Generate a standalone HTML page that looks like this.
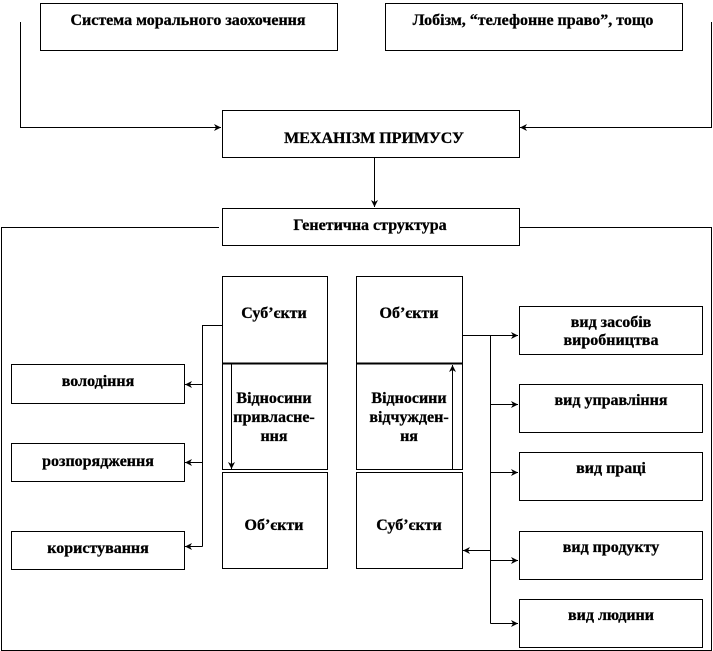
<!DOCTYPE html>
<html><head><meta charset="utf-8"><style>
html,body{margin:0;padding:0;background:#fff;}
svg{display:block;}
text{font-family:"Liberation Serif",serif;font-weight:bold;font-size:16px;fill:#000;text-anchor:middle;stroke:#000;stroke-width:0.3;}
</style></head><body>
<svg width="713" height="651" viewBox="0 0 713 651" xmlns="http://www.w3.org/2000/svg">
<defs><marker id="a" markerWidth="8" markerHeight="8" refX="7" refY="4" orient="auto" markerUnits="userSpaceOnUse"><path d="M0,0.5 L7,4 L0,7.5 L2,4 Z" fill="#000"/></marker></defs>
<g fill="none" stroke="#000" stroke-width="1">
<rect x="40.5" y="3.5" width="297" height="47"/>
<rect x="385.5" y="3.5" width="297" height="47"/>
<rect x="222.5" y="110.5" width="297" height="47"/>
<polyline points="20.5,22 20.5,127.5 221,127.5" marker-end="url(#a)"/>
<polyline points="711.5,22 711.5,127.5 520,127.5" marker-end="url(#a)"/>
<line x1="374.5" y1="158" x2="374.5" y2="207" marker-end="url(#a)"/>
<rect x="222.5" y="208.5" width="297" height="37"/>
<polyline points="219,227.5 1.5,227.5 1.5,650.5 711.5,650.5 711.5,227.5 520,227.5"/>
<rect x="222.5" y="276.5" width="105" height="193"/>
<line x1="222" y1="363.5" x2="328" y2="363.5" stroke-width="2"/>
<rect x="222.5" y="472.5" width="105" height="96"/>
<rect x="356.5" y="276.5" width="106" height="193"/>
<line x1="356" y1="363.5" x2="463" y2="363.5" stroke-width="2"/>
<rect x="356.5" y="472.5" width="106" height="96"/>
<line x1="231.5" y1="364" x2="231.5" y2="469" marker-end="url(#a)"/>
<line x1="452.5" y1="470" x2="452.5" y2="365" marker-end="url(#a)"/>
<rect x="11.5" y="364.5" width="173" height="39"/>
<rect x="11.5" y="443.5" width="173" height="38"/>
<rect x="11.5" y="531.5" width="173" height="38"/>
<polyline points="222,325.5 202.5,325.5 202.5,546.5"/>
<line x1="202.5" y1="384.5" x2="185" y2="384.5" marker-end="url(#a)"/>
<line x1="202.5" y1="462.5" x2="185" y2="462.5" marker-end="url(#a)"/>
<line x1="202.5" y1="546.5" x2="185" y2="546.5" marker-end="url(#a)"/>
<rect x="519.5" y="306.5" width="183" height="48"/>
<rect x="519.5" y="384.5" width="183" height="48"/>
<rect x="519.5" y="452.5" width="183" height="48"/>
<rect x="519.5" y="531.5" width="183" height="48"/>
<rect x="519.5" y="599.5" width="183" height="48"/>
<polyline points="463,335.5 490.5,335.5 490.5,623.5"/>
<line x1="490.5" y1="335.5" x2="518" y2="335.5" marker-end="url(#a)"/>
<line x1="490.5" y1="404.5" x2="518" y2="404.5" marker-end="url(#a)"/>
<line x1="490.5" y1="472.5" x2="518" y2="472.5" marker-end="url(#a)"/>
<line x1="490.5" y1="560.5" x2="518" y2="560.5" marker-end="url(#a)"/>
<line x1="490.5" y1="623.5" x2="518" y2="623.5" marker-end="url(#a)"/>
<line x1="490.5" y1="550.5" x2="463" y2="550.5" marker-end="url(#a)"/>
</g>
<text x="188" y="25">Система морального заохочення</text>
<text x="533" y="25">Лобізм, “телефонне право”, тощо</text>
<text x="374" y="143">МЕХАНІЗМ ПРИМУСУ</text>
<text x="370" y="230">Генетична структура</text>
<text x="274" y="318">Суб’єкти</text>
<text x="274" y="403">Відносини</text>
<text x="274" y="422">привласне-</text>
<text x="274" y="441">ння</text>
<text x="274" y="530">Об’єкти</text>
<text x="409" y="318">Об’єкти</text>
<text x="409" y="403">Відносини</text>
<text x="409" y="422">відчужден-</text>
<text x="409" y="441">ня</text>
<text x="409" y="530">Суб’єкти</text>
<text x="98" y="386">володіння</text>
<text x="98" y="466">розпорядження</text>
<text x="98" y="553">користування</text>
<text x="611" y="327">вид засобів</text>
<text x="611" y="345">виробництва</text>
<text x="611" y="405">вид управління</text>
<text x="611" y="473">вид праці</text>
<text x="611" y="552">вид продукту</text>
<text x="611" y="620">вид людини</text>
</svg>
</body></html>
